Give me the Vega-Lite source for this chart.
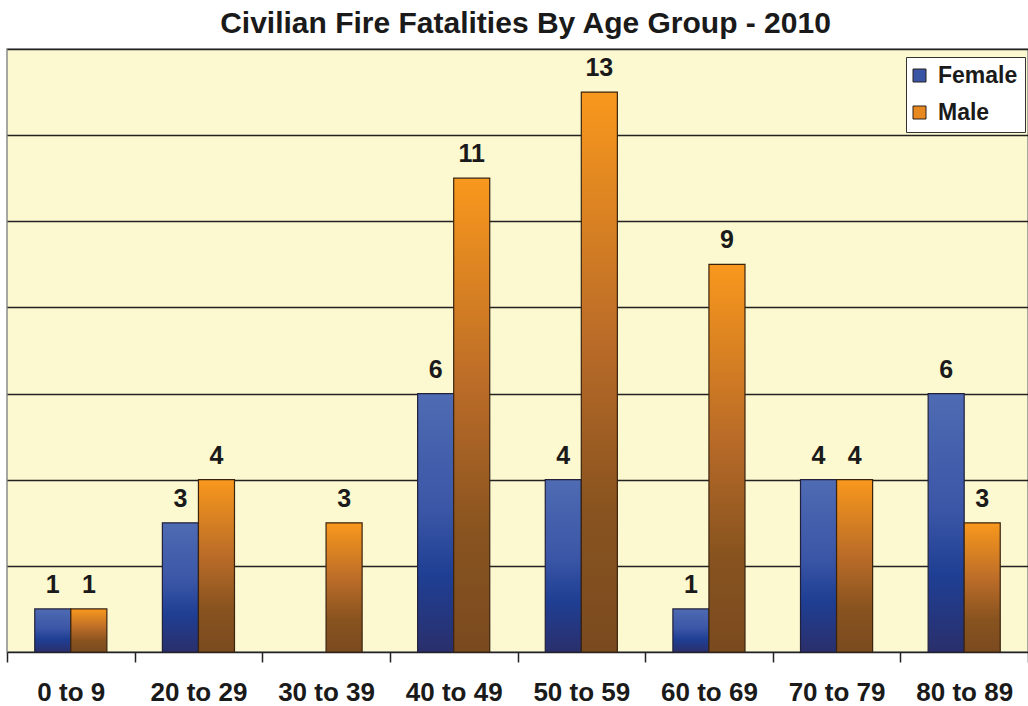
{
  "$schema": "https://vega.github.io/schema/vega-lite/v6.json",
  "width": 1021,
  "height": 603,
  "autosize": {"type": "none"},
  "padding": {"left": 7, "top": 49, "right": 0, "bottom": 54},
  "background": "white",
  "title": {"text": "Civilian Fire Fatalities By Age Group - 2010", "fontSize": 30, "font": "Liberation Sans", "fontWeight": "bold", "color": "#1a1a1a", "offset": 10, "anchor": "middle", "dx": 8},
  "config": {
    "view": {"fill": "#fcf8d0", "stroke": "#8a8a8a", "strokeWidth": 1.5},
    "font": "Liberation Sans"
  },
  "data": {"values": [
    {"age": "0 to 9", "sex": "Female", "count": 1},
    {"age": "0 to 9", "sex": "Male", "count": 1},
    {"age": "20 to 29", "sex": "Female", "count": 3},
    {"age": "20 to 29", "sex": "Male", "count": 4},
    {"age": "30 to 39", "sex": "Male", "count": 3},
    {"age": "40 to 49", "sex": "Female", "count": 6},
    {"age": "40 to 49", "sex": "Male", "count": 11},
    {"age": "50 to 59", "sex": "Female", "count": 4},
    {"age": "50 to 59", "sex": "Male", "count": 13},
    {"age": "60 to 69", "sex": "Female", "count": 1},
    {"age": "60 to 69", "sex": "Male", "count": 9},
    {"age": "70 to 79", "sex": "Female", "count": 4},
    {"age": "70 to 79", "sex": "Male", "count": 4},
    {"age": "80 to 89", "sex": "Female", "count": 6},
    {"age": "80 to 89", "sex": "Male", "count": 3}
  ]},
  "encoding": {
    "x": {"field": "age", "type": "nominal",
      "sort": ["0 to 9", "20 to 29", "30 to 39", "40 to 49", "50 to 59", "60 to 69", "70 to 79", "80 to 89"],
      "scale": {"paddingInner": 0, "paddingOuter": 0},
      "axis": {"title": null, "labelAngle": 0, "labelFontSize": 26, "labelFontWeight": "bold", "labelColor": "#1a1a1a", "labelPadding": 17, "tickSize": 10, "tickBand": "extent", "tickColor": "#222", "domainColor": "#222", "domainWidth": 1.5, "tickWidth": 1.5, "grid": false}},
    "xOffset": {"field": "sex", "type": "nominal", "scale": {"domain": ["Female", "Male"], "paddingInner": 0, "paddingOuter": 0.77}},
    "y": {"field": "count", "type": "quantitative",
      "scale": {"domain": [0, 14], "nice": false},
      "axis": {"title": null, "labels": false, "ticks": false, "domain": false, "values": [2, 4, 6, 8, 10, 12, 14], "gridColor": "#222", "gridWidth": 1.3, "gridOpacity": 1}}
  },
  "layer": [
    {
      "transform": [{"filter": "datum.sex === 'Female'"}],
      "mark": {"type": "bar", "strokeWidth": 1.2, "stroke": "#22203a",
        "fill": {"gradient": "linear", "x1": 0, "y1": 0, "x2": 0, "y2": 1, "stops": [
          {"offset": 0, "color": "#4e6bb3"},
          {"offset": 0.45, "color": "#3b56a6"},
          {"offset": 0.7, "color": "#1f3f94"},
          {"offset": 1, "color": "#2a2f6c"}]}}
    },
    {
      "transform": [{"filter": "datum.sex === 'Male'"}],
      "mark": {"type": "bar", "strokeWidth": 1.2, "stroke": "#3a2410",
        "fill": {"gradient": "linear", "x1": 0, "y1": 0, "x2": 0, "y2": 1, "stops": [
          {"offset": 0, "color": "#f9981d"},
          {"offset": 0.45, "color": "#b96b28"},
          {"offset": 0.75, "color": "#88531f"},
          {"offset": 1, "color": "#7a4a1f"}]}}
    },
    {
      "mark": {"type": "bar", "opacity": 0},
      "encoding": {
        "color": {"field": "sex", "type": "nominal",
          "scale": {"domain": ["Female", "Male"], "range": ["#3a55a5", "#e8891f"]},
          "legend": {"title": null, "orient": "none", "legendX": 899, "legendY": 8, "labelFontSize": 23, "labelFontWeight": "bold", "labelColor": "#1a1a1a", "symbolType": "square", "symbolSize": 169, "symbolOffset": -5, "symbolOpacity": 1, "symbolStrokeColor": "#2a2020", "symbolStrokeWidth": 1, "fillColor": "white", "strokeColor": "#333", "padding": 7, "rowPadding": 13, "labelOffset": 7, "cornerRadius": 0}
        }
      }
    },
    {
      "mark": {"type": "text", "baseline": "alphabetic", "dy": -16, "fontSize": 25, "fontWeight": "bold", "color": "#1a1a1a"},
      "encoding": {"text": {"field": "count", "type": "quantitative"}}
    }
  ]
}
